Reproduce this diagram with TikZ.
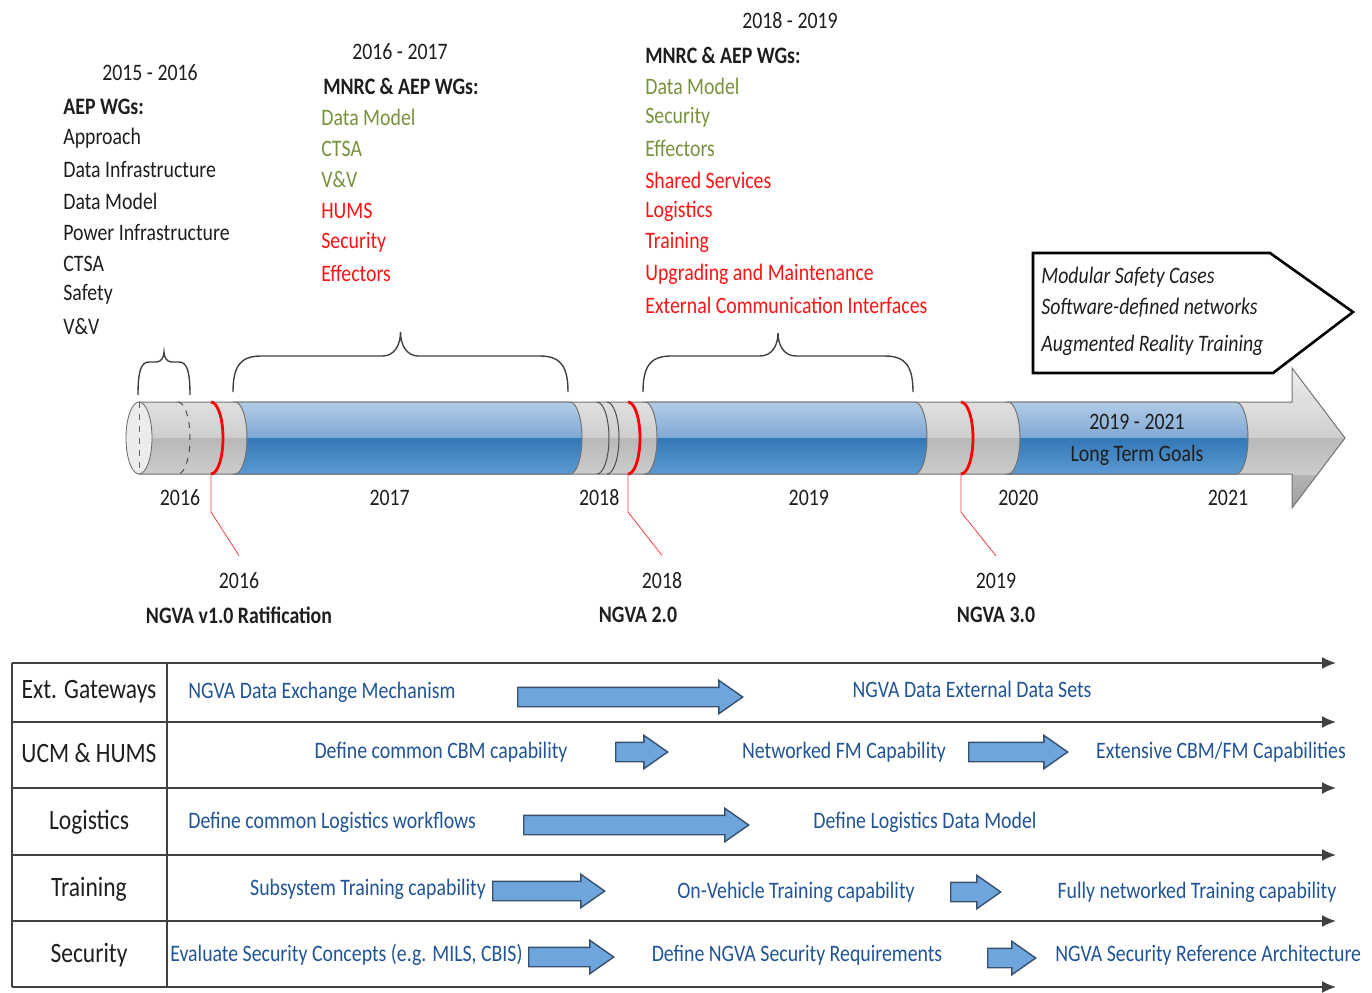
\documentclass[tikz,border=0pt]{standalone}
\usepackage{fontspec}
\setmainfont{Carlito}
\usepackage{tikz}
\usetikzlibrary{shapes.arrows,arrows.meta}

\definecolor{wggreen}{RGB}{118,146,60}
\definecolor{wgred}{RGB}{250,20,20}
\definecolor{rowblue}{RGB}{32,84,150}
\definecolor{arrfill}{RGB}{110,165,220}
\definecolor{arredge}{RGB}{55,80,110}
\definecolor{txtgrey}{RGB}{30,30,30}
\definecolor{greyTop}{RGB}{224,224,224}
\definecolor{greyMidUp}{RGB}{206,206,206}
\definecolor{greyMidLow}{RGB}{184,184,184}
\definecolor{greyBot}{RGB}{204,204,204}
\definecolor{greyHeadTop}{RGB}{240,240,240}
\definecolor{greyHeadBot}{RGB}{160,160,160}
\definecolor{blueTop}{RGB}{178,204,231}
\definecolor{blueMidUp}{RGB}{128,168,212}
\definecolor{blueMidLow}{RGB}{50,120,182}
\definecolor{blueBot}{RGB}{92,154,210}

% shadings of the time bar, with a hard step in the middle
\pgfdeclareverticalshading{greybar}{100bp}{color(0bp)=(greyBot); color(25bp)=(greyBot); color(50bp)=(greyMidLow); color(50.5bp)=(greyMidUp); color(75bp)=(greyTop); color(100bp)=(greyTop)}
\pgfdeclareverticalshading{bluebar}{100bp}{color(0bp)=(blueBot); color(25bp)=(blueBot); color(50bp)=(blueMidLow); color(50.5bp)=(blueMidUp); color(75bp)=(blueTop); color(100bp)=(blueTop)}

% curly brace over a period: x1, x2, tip y, arm y, end y, end radius, cusp width
\newcommand{\wgbrace}[7]{%
    \draw[black!75, line width=0.7pt]
        (#1,#5) .. controls (#1,{#4+0.3*(#5-#4)}) and ({#1+0.25*#6},#4) .. ({#1+#6},#4)
        -- ({(#1+#2)/2-#7},#4) .. controls ({(#1+#2)/2-0.3*#7},#4) and ({(#1+#2)/2},{#4-0.5*(#4-#3)}) .. ({(#1+#2)/2},#3)
        .. controls ({(#1+#2)/2},{#4-0.5*(#4-#3)}) and ({(#1+#2)/2+0.3*#7},#4) .. ({(#1+#2)/2+#7},#4)
        -- ({#2-#6},#4) .. controls ({#2-0.25*#6},#4) and (#2,{#4+0.3*(#5-#4)}) .. (#2,#5);
}

\begin{document}
\begin{tikzpicture}[x=0.5pt, y=-0.5pt]
    \useasboundingbox (0,0) rectangle (1372,992);

    % --- DEFINE STYLES ---
    \tikzstyle{txt} = [font=\fontsize{11.8}{14}\selectfont, xscale=0.84, inner sep=0pt, text=txtgrey]
    \tikzstyle{wgtitle} = [txt, anchor=west, font=\fontsize{11.8}{14}\selectfont\bfseries]
    \tikzstyle{wgitem} = [txt, anchor=west]
    \tikzstyle{wggood} = [wgitem, text=wggreen]
    \tikzstyle{wgnew} = [wgitem, text=wgred]
    \tikzstyle{milestone} = [txt, font=\fontsize{11.8}{14}\selectfont\bfseries]
    \tikzstyle{goal} = [txt, anchor=west, font=\fontsize{11.8}{14}\selectfont\itshape]
    \tikzstyle{rowlbl} = [txt, font=\fontsize{14}{16}\selectfont]
    \tikzstyle{rowtxt} = [txt, text=rowblue]
    \tikzstyle{rowline} = [line width=0.8pt, black!75]
    \tikzstyle{blockarr} = [single arrow, anchor=tail, draw=arredge, fill=arrfill, line width=0.7pt, inner xsep=0pt, inner ysep=4.5pt,
                            single arrow head extend=3.5pt, single arrow tip angle=70]
    \tikzstyle{divider} = [black!70, line width=0.5pt]
    \tikzstyle{redmark} = [red, line width=1.4pt]
    \tikzstyle{leader} = [red!75, line width=0.4pt]

    % --- WORKING GROUPS PER PERIOD ---
    \node[txt] (p1) at (150,73) {2015 - 2016};
    \node[wgtitle] (p1t) at (63,107) {AEP WGs:};
    \foreach \t [count=\i] in {Approach, Data Infrastructure, Data Model, Power Infrastructure, CTSA, Safety, V\&V}
        \node[wgitem] (p1-\i) at (63,107+31.3*\i) {\t};

    \node[txt] (p2) at (400,52) {2016 - 2017};
    \node[wgtitle] (p2t) at (323,86) {MNRC \& AEP WGs:};
    \foreach \t [count=\i] in {Data Model, CTSA, V\&V}
        \node[wggood] (p2g-\i) at (321,86+31.3*\i) {\t};
    \foreach \t [count=\i] in {HUMS, Security, Effectors}
        \node[wgnew] (p2r-\i) at (321,180+31.3*\i) {\t};

    \node[txt] (p3) at (790,21) {2018 - 2019};
    \node[wgtitle] (p3t) at (645,55) {MNRC \& AEP WGs:};
    \foreach \t [count=\i] in {Data Model, Security, Effectors}
        \node[wggood] (p3g-\i) at (645,55+31.3*\i) {\t};
    \foreach \t [count=\i] in {Shared Services, Logistics, Training, Upgrading and Maintenance, External Communication Interfaces}
        \node[wgnew] (p3r-\i) at (645,149+31.3*\i) {\t};

    % long term goals
    \draw[line width=1.3pt] (1033,253) -- (1270,253) -- (1353,312) -- (1273,373) -- (1033,373) -- cycle;
    \foreach \t/\y [count=\i] in {Modular Safety Cases/277, Software-defined networks/308, Augmented Reality Training/345}
        \node[goal] (g\i) at (1041,\y) {\t};

    % braces
    \wgbrace{138}{190}{352}{362}{395}{11}{8}
    \wgbrace{233}{568}{332}{356}{392}{28}{18}
    \wgbrace{643}{913}{333}{356}{392}{28}{18}

    % --- TIME BAR ---
    \def\barpath{(139,402) -- (1292,402) -- (1292,368) -- (1345,438) -- (1292,508) -- (1292,474) -- (139,474) -- cycle}
    \shade[top color=greyHeadTop, bottom color=greyHeadBot] \barpath;
    \begin{scope}
        \clip \barpath;
        \shade[shading=greybar] (139,402) rectangle (1350,474);
    \end{scope}
    \draw[black!55, line width=0.5pt] \barpath;
    \draw[black!60, fill=greyTop!60!white] (139,438) ellipse [x radius=13, y radius=36];
    \draw[black!60, dashed] (139,402) -- (139,474);

    % blue periods
    \foreach \a/\b in {235/570, 645/915, 1008/1236}
        \shadedraw[shading=bluebar, draw=black!55, line width=0.5pt] (\a,402) -- (\b,402)
            arc[start angle=-90, end angle=90, x radius=12, y radius=36] -- (\a,474)
            arc[start angle=90, end angle=-90, x radius=12, y radius=36] -- cycle;

    % period borders
    \draw[divider, dashed] (178,402) arc[start angle=-90, end angle=90, x radius=12, y radius=36];
    \foreach \a in {597, 607}
        \draw[divider] (\a,402) arc[start angle=-90, end angle=90, x radius=12, y radius=36];
    \foreach \a/\n in {211/1, 628/2, 961/3}
        \draw[redmark] (\a,402) arc[start angle=-90, end angle=90, x radius=12, y radius=36] coordinate (m\n);

    \node[txt] (lt1) at (1137,422) {2019 - 2021};
    \node[txt] (lt2) at (1137,455) {Long Term Goals};

    \foreach \yr [count=\i from 0] in {2016,...,2021}
        \node[txt] (yr\yr) at (180+209.6*\i,498) {\yr};

    % milestones
    \foreach \n/\x/\lx/\yr/\lbl in {1/239/239/2016/NGVA v1.0 Ratification, 2/662/638/2018/NGVA 2.0, 3/996/996/2019/NGVA 3.0} {
        \node[txt] (my\n) at (\x,581) {\yr};
        \node[milestone] (ms\n) at (\lx,615) {\lbl};
        \draw[leader] (m\n) -- ++(0,38) -- ([yshift=8.5pt]my\n.north);
    }

    % --- ROADMAP TABLE ---
    \foreach \y in {663,722,788,855,921,987}
        \draw[rowline, -{Latex[length=7pt, width=6pt]}] (12,\y) -- (1336,\y);
    \draw[rowline] (12,663) -- (12,987) (167,663) -- (167,987);

    \foreach \t/\y [count=\i] in {Ext. Gateways/692, UCM \& HUMS/753, Logistics/822, Training/889, Security/955}
        \node[rowlbl] (lane\i) at (89,\y) {\t};

    % Ext. Gateways
    \node[rowtxt, anchor=west] (eg1) at (188,692) {NGVA Data Exchange Mechanism};
    \node[blockarr, minimum height=112.5pt] (eg-a1) at (517,697) {};
    \node[rowtxt] (eg2) at (972,689) {NGVA Data External Data Sets};

    % UCM & HUMS
    \node[rowtxt] (uh1) at (441,752) {Define common CBM capability};
    \node[blockarr, minimum height=26pt] (uh-a1) at (615,752) {};
    \node[rowtxt] (uh2) at (844,752) {Networked FM Capability};
    \node[blockarr, minimum height=49.5pt] (uh-a2) at (968,752) {};
    \node[rowtxt] (uh3) at (1221,752) {Extensive CBM/FM Capabilities};

    % Logistics
    \node[rowtxt, anchor=west] (lg1) at (188,822) {Define common Logistics workflows};
    \node[blockarr, minimum height=112.5pt] (lg-a1) at (523,825) {};
    \node[rowtxt] (lg2) at (925,822) {Define Logistics Data Model};

    % Training
    \node[rowtxt] (tr1) at (368,889) {Subsystem Training capability};
    \node[blockarr, minimum height=56pt] (tr-a1) at (492,891) {};
    \node[rowtxt] (tr2) at (796,892) {On-Vehicle Training capability};
    \node[blockarr, minimum height=25pt] (tr-a2) at (950,892) {};
    \node[rowtxt] (tr3) at (1197,892) {Fully networked Training capability};

    % Security
    \node[rowtxt, anchor=west] (sc1) at (170,955) {Evaluate Security Concepts (e.g. MILS, CBIS)};
    \node[blockarr, minimum height=42.5pt] (sc-a1) at (528,957) {};
    \node[rowtxt] (sc2) at (797,955) {Define NGVA Security Requirements};
    \node[blockarr, minimum height=24pt] (sc-a2) at (987,958) {};
    \node[rowtxt, anchor=west] (sc3) at (1055,955) {NGVA Security Reference Architecture};
\end{tikzpicture}
\end{document}
